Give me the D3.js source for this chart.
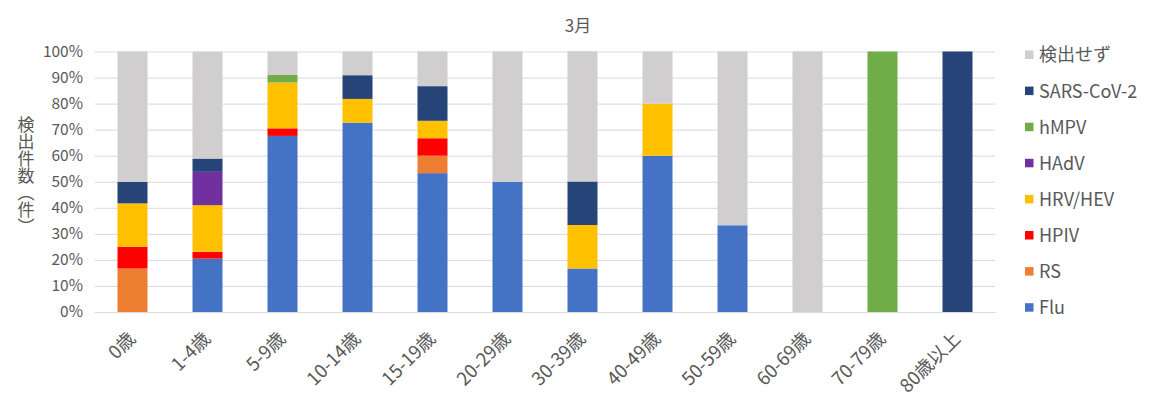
<!DOCTYPE html>
<html>
<head>
<meta charset="utf-8">
<script src="https://cdn.jsdelivr.net/npm/d3@7"></script>
<style>
  html, body { margin: 0; padding: 0; background: #fff; }
</style>
</head>
<body>
<div id="chart"></div>
<script>
// Age groups (x categories)
var ages = ["0歳", "1-4歳", "5-9歳", "10-14歳", "15-19歳", "20-29歳", "30-39歳", "40-49歳", "50-59歳", "60-69歳", "70-79歳", "80歳以上"];

// Series, bottom to top in the stack (share of detections, %)
var seriesNames = ["Flu", "RS", "HPIV", "HRV/HEV", "HAdV", "hMPV", "SARS-CoV-2", "検出せず"];
var seriesColours = ["#4472C4", "#ED7D31", "#FF0000", "#FFC000", "#7030A0", "#70AD47", "#264478", "#D0CECE"];

var flu     = [0,    20.5, 67.6, 72.7, 53.3, 50,   16.7, 60, 33.3, 0,   0,   0];
var rs      = [16.7, 0,    0,    0,    6.7,  0,    0,    0,  0,    0,   0,   0];
var hpiv    = [8.3,  2.6,  2.9,  0,    6.7,  0,    0,    0,  0,    0,   0,   0];
var hrv     = [16.7, 17.9, 17.6, 9.1,  6.7,  0,    16.7, 20, 0,    0,   0,   0];
var hadv    = [0,    12.8, 0,    0,    0,    0,    0,    0,  0,    0,   0,   0];
var hmpv    = [0,    0,    2.9,  0,    0,    0,    0,    0,  0,    0,   100, 0];
var sars    = [8.3,  5.1,  0,    9.1,  13.3, 0,    16.7, 0,  0,    0,   0,   100];
var none    = [50,   41.0, 9.0,  9.1,  13.3, 50,   50,   20, 66.7, 100, 0,   0];

var yTicks = [0, 10, 20, 30, 40, 50, 60, 70, 80, 90, 100];

var seriesValues = [flu, rs, hpiv, hrv, hadv, hmpv, sars, none];

var rows = ages.map(function (a, i) {
  var r = { age: a };
  seriesNames.forEach(function (s, k) { r[s] = seriesValues[k][i]; });
  return r;
});

var width = 1164, height = 399;
var margin = { top: 51.5, right: 169, bottom: 87, left: 95 };
var innerW = width - margin.left - margin.right;
var innerH = height - margin.top - margin.bottom;

var font = "'Noto Sans CJK JP', 'Noto Sans', sans-serif";
var textCol = "#595959";

var svg = d3.select("#chart").append("svg")
  .attr("width", width).attr("height", height);

var g = svg.append("g")
  .attr("transform", "translate(" + margin.left + "," + margin.top + ")");

var x = d3.scaleBand().domain(ages).range([0, innerW]).paddingInner(0.6).paddingOuter(0.3);
var y = d3.scaleLinear().domain([0, 100]).range([innerH, 0]);

// Gridlines + y labels
var yAxis = d3.axisLeft(y).tickValues(yTicks).tickSize(-innerW).tickPadding(12)
  .tickFormat(function (d) { return d + "%"; });
g.append("g")
  .call(yAxis)
  .call(function (gg) { gg.select(".domain").remove(); })
  .call(function (gg) { gg.selectAll(".tick line").attr("stroke", "#D9D9D9").attr("stroke-width", 1); })
  .call(function (gg) {
    gg.selectAll(".tick text").attr("font-family", font).attr("font-size", 15.5).attr("fill", textCol);
  });

// Stacked bars
var stack = d3.stack().keys(seriesNames);
var layers = stack(rows);
g.selectAll(".layer")
  .data(layers).join("g")
    .attr("class", "layer")
    .attr("fill", function (d, i) { return seriesColours[i]; })
  .selectAll("rect")
  .data(function (d) { return d; }).join("rect")
    .attr("x", function (d) { return x(d.data.age); })
    .attr("width", x.bandwidth())
    .attr("y", function (d) { return y(d[1]); })
    .attr("height", function (d) { return y(d[0]) - y(d[1]); });

// X labels (rotated)
var xAxis = d3.axisBottom(x).tickSize(0).tickPadding(0);
g.append("g")
  .attr("transform", "translate(0," + innerH + ")")
  .call(xAxis)
  .call(function (gg) { gg.select(".domain").attr("stroke", "#D9D9D9"); })
  .call(function (gg) {
    gg.selectAll(".tick text")
      .attr("font-family", font).attr("font-size", 18.5).attr("fill", textCol)
      .attr("text-anchor", "end")
      .attr("dy", 0)
      .attr("transform", "translate(4,28) rotate(-45)");
  });

// Title
svg.append("text")
  .attr("x", 578).attr("y", 32)
  .attr("text-anchor", "middle")
  .attr("font-family", font).attr("font-size", 17).attr("fill", textCol)
  .text("3月");

// Y-axis title (vertical)
svg.append("text")
  .attr("x", 26).attr("y", 116)
  .attr("font-family", font).attr("font-size", 17).attr("fill", textCol)
  .style("writing-mode", "vertical-rl")
  .text("検出件数（件）");

// Legend, top to bottom reversed stack order
var legendItems = seriesNames.map(function (s, i) { return { name: s, colour: seriesColours[i] }; }).reverse();
var lg = svg.append("g").attr("transform", "translate(1025,55)");
var li = lg.selectAll(".leg").data(legendItems).join("g")
  .attr("class", "leg")
  .attr("transform", function (d, i) { return "translate(0," + (i * 36.1) + ")"; });
li.append("rect")
  .attr("x", 0).attr("y", -4.5).attr("width", 8.5).attr("height", 8.5)
  .attr("fill", function (d) { return d.colour; });
li.append("text")
  .attr("x", 14).attr("y", 0).attr("dy", "0.36em")
  .attr("font-family", font).attr("font-size", 18).attr("fill", textCol)
  .text(function (d) { return d.name; });
</script>
</body>
</html>
